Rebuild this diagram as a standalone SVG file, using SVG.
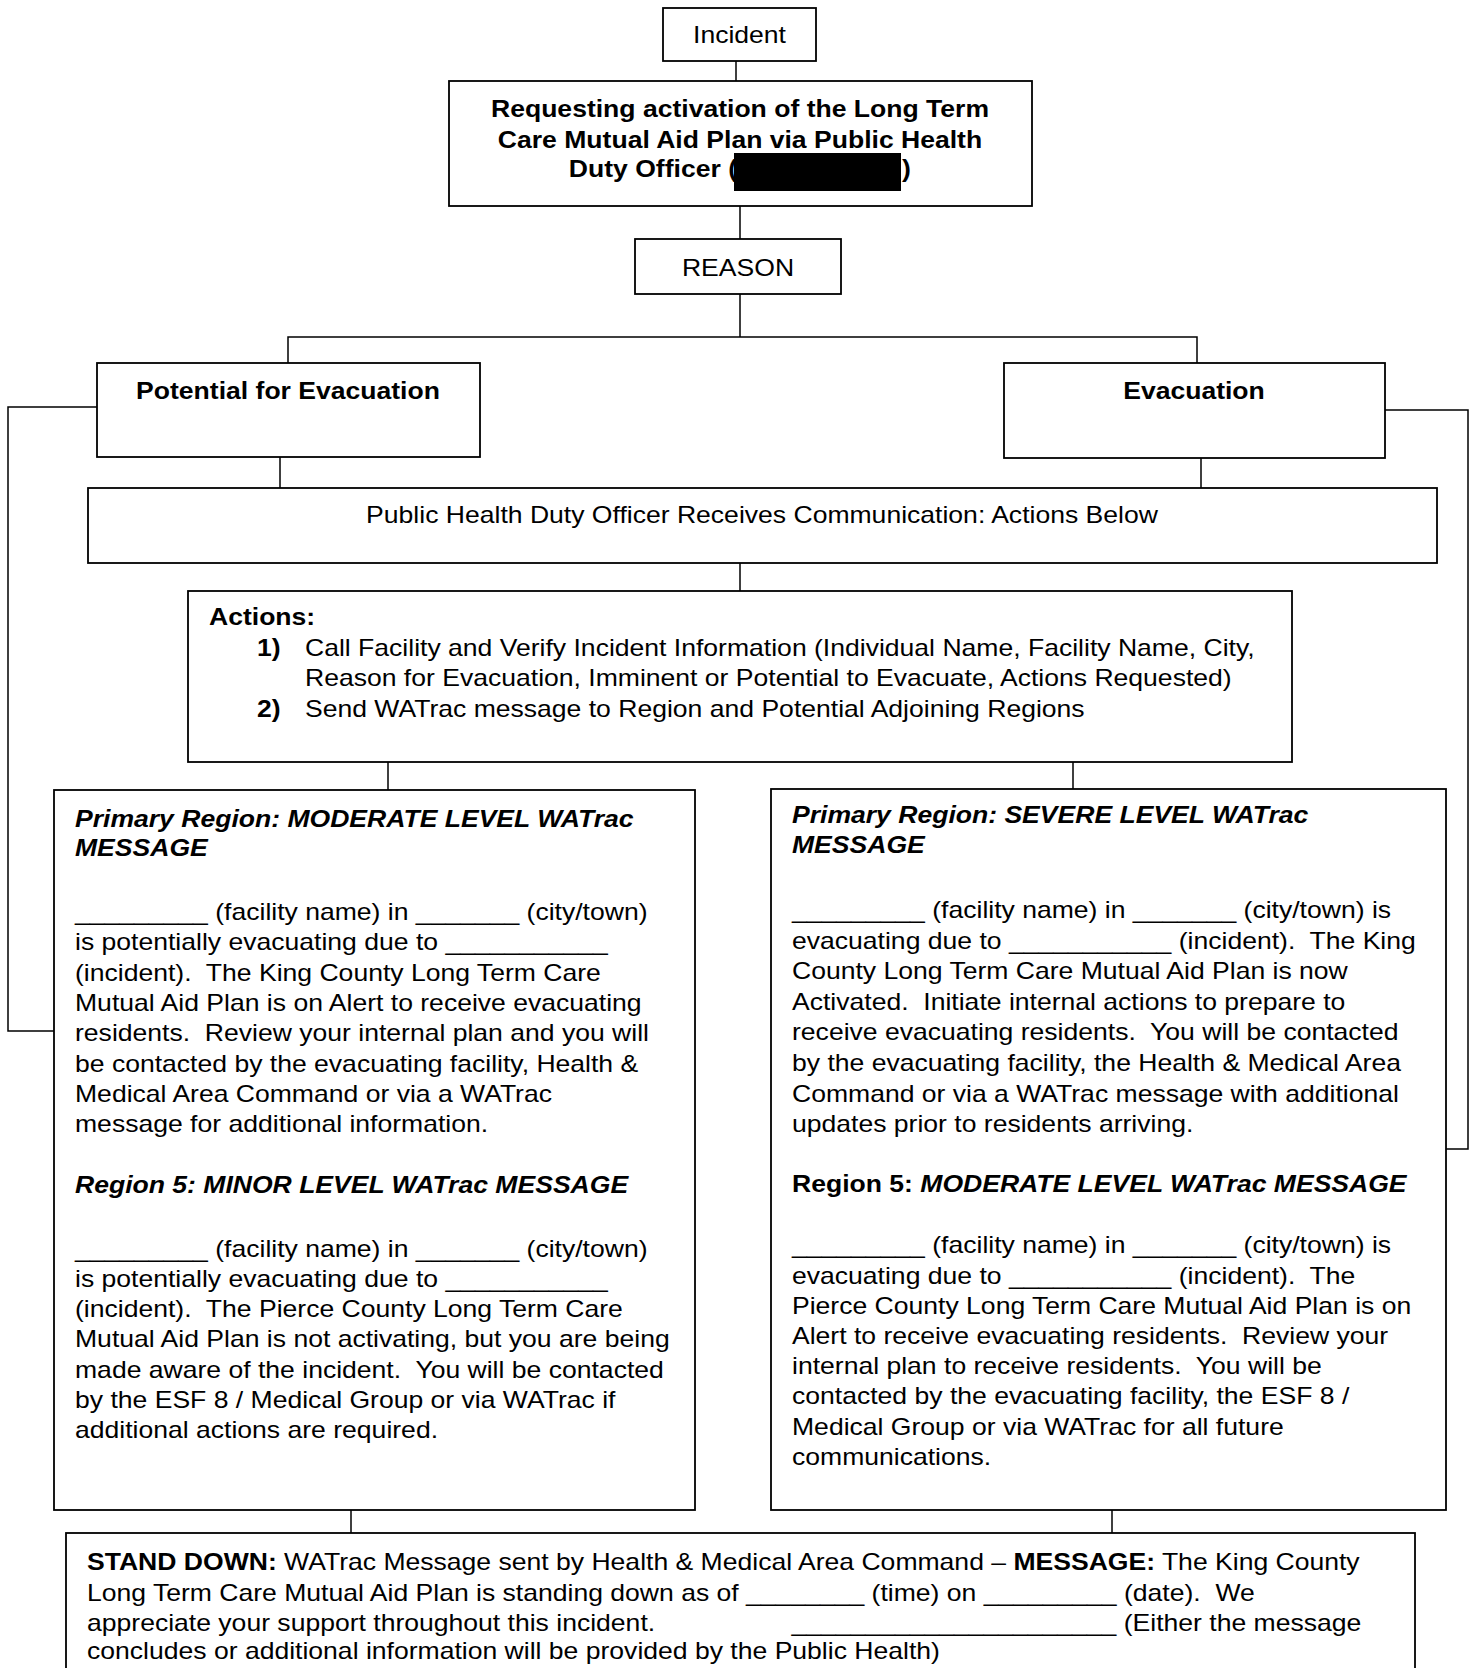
<svg xmlns="http://www.w3.org/2000/svg" width="1474" height="1668" viewBox="0 0 1474 1668" xml:space="preserve">
<style>
.box{fill:#fff;stroke:#000;stroke-width:1.8}
.con{fill:none;stroke:#000;stroke-width:1.5}
text{font-family:"Liberation Sans",Arial,sans-serif;font-size:23px;fill:#000;white-space:pre}
.b{font-weight:bold}
.bi{font-weight:bold;font-style:italic}
.m{text-anchor:middle}
.e{text-anchor:end}
</style>
<rect width="1474" height="1668" fill="#fff"/>
<g id="connectors">
<path class="con" d="M736 61V81"/>
<path class="con" d="M740 206V239"/>
<path class="con" d="M740 294V337"/>
<path class="con" d="M288 363V337H1197V363"/>
<path class="con" d="M97 407H8V1031H54"/>
<path class="con" d="M1385 410H1468V1149H1446"/>
<path class="con" d="M280 457V488"/>
<path class="con" d="M1201 458V488"/>
<path class="con" d="M740 563V591"/>
<path class="con" d="M388 762V790"/>
<path class="con" d="M1073 762V789"/>
<path class="con" d="M351 1510V1533"/>
<path class="con" d="M1112 1510V1533"/>
</g>
<g id="incident">
<rect class="box" x="663" y="8" width="153" height="53"/>
<text class="m" transform="matrix(1.155 0 0 1 739.5 43)">Incident</text>
</g>
<g id="request">
<rect class="box" x="449" y="81" width="583" height="125"/>
<text class="b m" transform="matrix(1.155 0 0 1 740 117)">Requesting activation of the Long Term</text>
<text class="b m" transform="matrix(1.155 0 0 1 740 148)">Care Mutual Aid Plan via Public Health</text>
<text class="b e" transform="matrix(1.155 0 0 1 737 177)">Duty Officer (</text>
<text class="b" transform="matrix(1.155 0 0 1 902 177)">)</text>
<rect x="734" y="153" width="167" height="38" fill="#000"/>
</g>
<g id="reason">
<rect class="box" x="635" y="239" width="206" height="55"/>
<text class="m" transform="matrix(1.155 0 0 1 738 276)">REASON</text>
</g>
<g id="potential">
<rect class="box" x="97" y="363" width="383" height="94"/>
<text class="b m" transform="matrix(1.155 0 0 1 288 399)">Potential for Evacuation</text>
</g>
<g id="evacuation">
<rect class="box" x="1004" y="363" width="381" height="95"/>
<text class="b m" transform="matrix(1.155 0 0 1 1194 399)">Evacuation</text>
</g>
<g id="phdo">
<rect class="box" x="88" y="488" width="1349" height="75"/>
<text class="m" transform="matrix(1.155 0 0 1 762 523)">Public Health Duty Officer Receives Communication: Actions Below</text>
</g>
<g id="actions">
<rect class="box" x="188" y="591" width="1104" height="171"/>
<text class="b" transform="matrix(1.155 0 0 1 209 625)">Actions:</text>
<text class="b" transform="matrix(1.155 0 0 1 257 656)">1)</text>
<text transform="matrix(1.155 0 0 1 305 656)">Call Facility and Verify Incident Information (Individual Name, Facility Name, City,</text>
<text transform="matrix(1.155 0 0 1 305 686)">Reason for Evacuation, Imminent or Potential to Evacuate, Actions Requested)</text>
<text class="b" transform="matrix(1.155 0 0 1 257 717)">2)</text>
<text transform="matrix(1.155 0 0 1 305 717)">Send WATrac message to Region and Potential Adjoining Regions</text>
</g>
<g id="moderate-message">
<rect class="box" x="54" y="790" width="641" height="720"/>
<text class="bi" transform="matrix(1.155 0 0 1 75 827)">Primary Region: MODERATE LEVEL WATrac</text>
<text class="bi" transform="matrix(1.155 0 0 1 75 856)">MESSAGE</text>
<text transform="matrix(1.155 0 0 1 75 920)">_________ (facility name) in _______ (city/town)</text>
<text transform="matrix(1.155 0 0 1 75 950.3)">is potentially evacuating due to ___________</text>
<text transform="matrix(1.155 0 0 1 75 980.6)">(incident).  The King County Long Term Care</text>
<text transform="matrix(1.155 0 0 1 75 1010.9)">Mutual Aid Plan is on Alert to receive evacuating</text>
<text transform="matrix(1.155 0 0 1 75 1041.2)">residents.  Review your internal plan and you will</text>
<text transform="matrix(1.155 0 0 1 75 1071.5)">be contacted by the evacuating facility, Health &amp;</text>
<text transform="matrix(1.155 0 0 1 75 1101.8)">Medical Area Command or via a WATrac</text>
<text transform="matrix(1.155 0 0 1 75 1132.1)">message for additional information.</text>
<text class="bi" transform="matrix(1.155 0 0 1 75 1193)">Region 5: MINOR LEVEL WATrac MESSAGE</text>
<text transform="matrix(1.155 0 0 1 75 1256.7)">_________ (facility name) in _______ (city/town)</text>
<text transform="matrix(1.155 0 0 1 75 1286.9)">is potentially evacuating due to ___________</text>
<text transform="matrix(1.155 0 0 1 75 1317.1)">(incident).  The Pierce County Long Term Care</text>
<text transform="matrix(1.155 0 0 1 75 1347.3)">Mutual Aid Plan is not activating, but you are being</text>
<text transform="matrix(1.155 0 0 1 75 1377.5)">made aware of the incident.  You will be contacted</text>
<text transform="matrix(1.155 0 0 1 75 1407.7)">by the ESF 8 / Medical Group or via WATrac if</text>
<text transform="matrix(1.155 0 0 1 75 1437.9)">additional actions are required.</text>
</g>
<g id="severe-message">
<rect class="box" x="771" y="789" width="675" height="721"/>
<text class="bi" transform="matrix(1.155 0 0 1 792 823)">Primary Region: SEVERE LEVEL WATrac</text>
<text class="bi" transform="matrix(1.155 0 0 1 792 853)">MESSAGE</text>
<text transform="matrix(1.155 0 0 1 792 918)">_________ (facility name) in _______ (city/town) is</text>
<text transform="matrix(1.155 0 0 1 792 948.6)">evacuating due to ___________ (incident).  The King</text>
<text transform="matrix(1.155 0 0 1 792 979.2)">County Long Term Care Mutual Aid Plan is now</text>
<text transform="matrix(1.155 0 0 1 792 1009.8)">Activated.  Initiate internal actions to prepare to</text>
<text transform="matrix(1.155 0 0 1 792 1040.4)">receive evacuating residents.  You will be contacted</text>
<text transform="matrix(1.155 0 0 1 792 1071)">by the evacuating facility, the Health &amp; Medical Area</text>
<text transform="matrix(1.155 0 0 1 792 1101.6)">Command or via a WATrac message with additional</text>
<text transform="matrix(1.155 0 0 1 792 1132.2)">updates prior to residents arriving.</text>
<text class="b" transform="matrix(1.155 0 0 1 792 1192)">Region 5: <tspan class="bi">MODERATE LEVEL WATrac MESSAGE</tspan></text>
<text transform="matrix(1.155 0 0 1 792 1253.3)">_________ (facility name) in _______ (city/town) is</text>
<text transform="matrix(1.155 0 0 1 792 1283.5)">evacuating due to ___________ (incident).  The</text>
<text transform="matrix(1.155 0 0 1 792 1313.7)">Pierce County Long Term Care Mutual Aid Plan is on</text>
<text transform="matrix(1.155 0 0 1 792 1343.9)">Alert to receive evacuating residents.  Review your</text>
<text transform="matrix(1.155 0 0 1 792 1374.1)">internal plan to receive residents.  You will be</text>
<text transform="matrix(1.155 0 0 1 792 1404.3)">contacted by the evacuating facility, the ESF 8 /</text>
<text transform="matrix(1.155 0 0 1 792 1434.5)">Medical Group or via WATrac for all future</text>
<text transform="matrix(1.155 0 0 1 792 1464.7)">communications.</text>
</g>
<g id="stand-down">
<rect class="box" x="66" y="1533" width="1349" height="170"/>
<text transform="matrix(1.155 0 0 1 87 1570)"><tspan class="b">STAND DOWN:</tspan> WATrac Message sent by Health &amp; Medical Area Command – <tspan class="b">MESSAGE:</tspan> The King County</text>
<text transform="matrix(1.155 0 0 1 87 1600.5)">Long Term Care Mutual Aid Plan is standing down as of ________ (time) on _________ (date).  We</text>
<text transform="matrix(1.155 0 0 1 87 1631)">appreciate your support throughout this incident.<tspan x="610">______________________ (Either the message</tspan></text>
<text transform="matrix(1.155 0 0 1 87 1659)">concludes or additional information will be provided by the Public Health)</text>
</g>
</svg>
